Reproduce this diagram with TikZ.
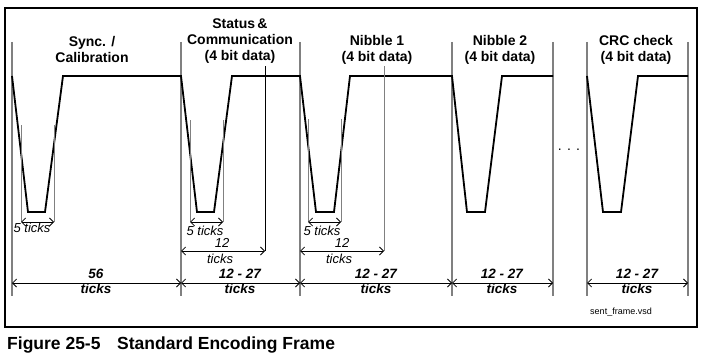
\documentclass[tikz,border=0pt]{standalone}
\usepackage{fontspec}
\setmainfont{Liberation Sans}
\usetikzlibrary{arrows.meta}

\tikzset{
    wave/.style={line width=1.8pt, line join=miter},
    bound/.style={draw=black!50, line width=1.3pt},
    guide/.style={draw=black!50, line width=0.9pt},
    dimline/.style={line width=0.8pt, {Straight Barb[length=4pt,width=8pt]}-{Straight Barb[length=4pt,width=8pt]}},
    hdr/.style={font=\fontsize{14}{16}\selectfont\bfseries, align=center, inner sep=0pt},
    small/.style={font=\fontsize{13}{15}\selectfont\itshape, inner sep=0pt},
    total/.style={font=\fontsize{13.5}{15}\selectfont\bfseries\itshape, align=center, inner sep=0pt},
}

\begin{document}
\begin{tikzpicture}[x=1pt, y=-1pt]
    \useasboundingbox (0,0) rectangle (701,358);
    \draw[line width=1.5pt] (5,8) rectangle (697,327);

    % Frame boundaries
    \coordinate (b0) at (12,283);
    \coordinate (b1) at (181,283);
    \coordinate (b2) at (300,283);
    \coordinate (b3) at (452,283);
    \coordinate (b4) at (553,283);
    \coordinate (b5) at (587,283);
    \coordinate (b6) at (688,283);
    \draw[bound] (12,42) -- (12,296);
    \draw[bound] (181,42) -- (181,296);
    \draw[bound] (300,42) -- (300,296);
    \draw[bound] (452,42) -- (452,296);
    \draw[bound] (553,42) -- (553,296);
    \draw[bound] (587,42) -- (587,296);
    \draw[bound] (688,42) -- (688,296);

    % Headers
    \node[hdr] (hdrSync) at (92,49) {Sync. /\\Calibration};
    \node[hdr] (hdrStat) at (240,41) {Status\,\&\\Communication\\(4 bit data)};
    \node[hdr] (hdrNib1) at (377,50) {Nibble 1\\(4 bit data)};
    \node[hdr] (hdrNib2) at (500,50) {Nibble 2\\(4 bit data)};
    \node[hdr] (hdrCRC) at (636,50) {CRC check\\(4 bit data)};

    % Signal
    \draw[wave] (12,76) -- (28,212) -- (45,212) -- (63,76) -- (181,76)
        -- (197,212) -- (214,212) -- (232,76) -- (300,76)
        -- (316,212) -- (334,212) -- (350,76) -- (452,76)
        -- (467,212) -- (485,212) -- (502,76) -- (553,76);
    \draw[wave] (587,76) -- (603,212) -- (621,212) -- (638,76) -- (688,76);

    % 5 ticks pulses
    \coordinate (p1a) at (21,222);  \coordinate (p1b) at (54,222);
    \coordinate (p2a) at (190,222); \coordinate (p2b) at (223,222);
    \coordinate (p3a) at (308,222); \coordinate (p3b) at (341,222);
    \draw[guide] (p1a) -- ++(0,-97);  \draw[guide] (p1b) -- ++(0,-97);
    \draw[guide] (p2a) -- ++(0,-102); \draw[guide] (p2b) -- ++(0,-102);
    \draw[guide] (p3a) -- ++(0,-103); \draw[guide] (p3b) -- ++(0,-103);
    \draw[dimline] (p1a) -- (p1b);
    \draw[dimline] (p2a) -- (p2b);
    \draw[dimline] (p3a) -- (p3b);
    \node[small] (fiveSync) at (32,228) {5 ticks};
    \node[small] (fiveStat) at (205,231) {5 ticks};
    \node[small] (fiveNib1) at (322,231) {5 ticks};

    % 12 ticks data
    \coordinate (q2a) at (181,251); \coordinate (q2b) at (265,251);
    \coordinate (q3a) at (300,251); \coordinate (q3b) at (384,251);
    \draw[line width=0.9pt] (q2b) -- ++(0,-185);
    \draw[guide] (q3b) -- ++(0,-185);
    \draw[dimline] (q2a) -- (q2b);
    \draw[dimline] (q3a) -- (q3b);
    \node[small] (twelveStat) at (222,243) {12};
    \node[small] (ticksStat) at (220,259) {ticks};
    \node[small] (twelveNib1) at (342,243) {12};
    \node[small] (ticksNib1) at (339,259) {ticks};

    % Frame lengths
    \draw[dimline] (b0) -- (b1);
    \draw[dimline] (b1) -- (b2);
    \draw[dimline] (b2) -- (b3);
    \draw[dimline] (b3) -- (b4);
    \draw[dimline] (b5) -- (b6);
    \node[total] (lenSync) at (96,281.5) {56\\ticks};
    \node[total] (lenStat) at (240,281.5) {12 - 27\\ticks};
    \node[total] (lenNib1) at (376,281.5) {12 - 27\\ticks};
    \node[total] (lenNib2) at (502,281.5) {12 - 27\\ticks};
    \node[total] (lenCRC) at (637,281.5) {12 - 27\\ticks};

    \node[font=\fontsize{14}{16}\selectfont, inner sep=0pt] (dots) at (569,150) {. . .};
    \node[font=\fontsize{9}{10}\selectfont, inner sep=0pt] (fileName) at (621,312) {sent\_frame.vsd};

    % Caption
    \node[font=\fontsize{17.5}{20}\selectfont\bfseries, anchor=base west, inner sep=0pt] (caption) at (7,349)
        {Figure 25-5\hspace{0.95em}Standard Encoding Frame};
\end{tikzpicture}
\end{document}
